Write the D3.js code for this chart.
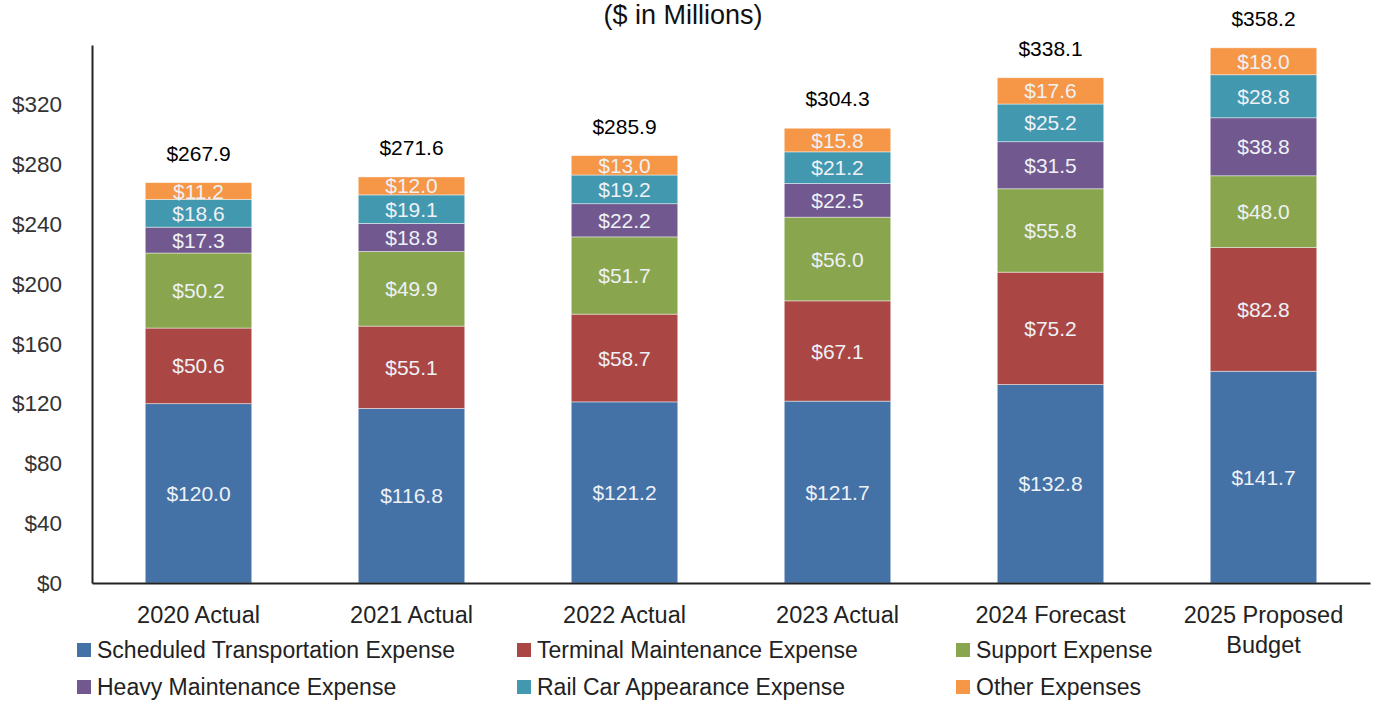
<!DOCTYPE html>
<html>
<head>
<meta charset="utf-8">
<script src="https://cdn.jsdelivr.net/npm/d3@7"></script>
<style>
  html, body { margin: 0; padding: 0; background: #fff; }
  svg { display: block; font-family: "Liberation Sans", Arial, sans-serif; }
</style>
</head>
<body>
<svg id="chart" width="1378" height="704"></svg>
<script>
// Operating expense by category, $ in millions
const categories = ["2020 Actual", "2021 Actual", "2022 Actual", "2023 Actual", "2024 Forecast", "2025 Proposed Budget"];
const categoryLines = [["2020 Actual"], ["2021 Actual"], ["2022 Actual"], ["2023 Actual"], ["2024 Forecast"], ["2025 Proposed", "Budget"]];
const seriesNames = ["Scheduled Transportation Expense", "Terminal Maintenance Expense", "Support Expense",
                     "Heavy Maintenance Expense", "Rail Car Appearance Expense", "Other Expenses"];
const scheduledTransportation = [120.0, 116.8, 121.2, 121.7, 132.8, 141.7];
const terminalMaintenance     = [50.6, 55.1, 58.7, 67.1, 75.2, 82.8];
const supportExpense          = [50.2, 49.9, 51.7, 56.0, 55.8, 48.0];
const heavyMaintenance        = [17.3, 18.8, 22.2, 22.5, 31.5, 38.8];
const railCarAppearance       = [18.6, 19.1, 19.2, 21.2, 25.2, 28.8];
const otherExpenses           = [11.2, 12.0, 13.0, 15.8, 17.6, 18.0];
const totals                  = [267.9, 271.6, 285.9, 304.3, 338.1, 358.2];
const yTicks = [0, 40, 80, 120, 160, 200, 240, 280, 320];
const colors = ["#4472A7", "#AA4744", "#89A54E", "#71588F", "#4298AF", "#F69647"];

const seriesValues = [scheduledTransportation, terminalMaintenance, supportExpense,
                      heavyMaintenance, railCarAppearance, otherExpenses];

const rows = categories.map((c, i) => {
  const r = { category: c };
  seriesNames.forEach((s, k) => { r[s] = seriesValues[k][i]; });
  return r;
});
const stacked = d3.stack().keys(seriesNames)(rows);

const svg = d3.select("#chart");
const x = d3.scaleBand().domain(categories).range([92, 1370]).paddingInner(0.5).paddingOuter(0.25);
const y = d3.scaleLinear().domain([0, 360]).range([583, 45]);

// Title
svg.append("text").attr("x", 683).attr("y", 24).attr("text-anchor", "middle")
  .attr("font-size", 27).attr("fill", "#111").text("($ in Millions)");

// Bars
const layer = svg.append("g").selectAll("g").data(stacked).join("g")
  .attr("fill", (d, i) => colors[i]);
layer.selectAll("rect").data(d => d).join("rect")
  .attr("x", d => x(d.data.category))
  .attr("width", x.bandwidth())
  .attr("y", d => y(d[1]))
  .attr("height", d => y(d[0]) - y(d[1]))
  .attr("stroke", "rgba(255,255,255,0.55)")
  .attr("stroke-width", 0.8);

// Segment value labels
stacked.forEach((s, k) => {
  svg.append("g").selectAll("text").data(s).join("text")
    .attr("x", d => x(d.data.category) + x.bandwidth() / 2)
    .attr("y", d => (y(d[0]) + y(d[1])) / 2)
    .attr("dy", "0.36em")
    .attr("text-anchor", "middle")
    .attr("font-size", 21)
    .attr("fill", "#EEF1F6")
    .text(d => "$" + (d[1] - d[0]).toFixed(1));
});

// Totals above each bar
svg.append("g").selectAll("text").data(categories).join("text")
  .attr("x", c => x(c) + x.bandwidth() / 2)
  .attr("y", (c, i) => y(totals[i]) - 22)
  .attr("text-anchor", "middle")
  .attr("font-size", 21)
  .attr("fill", "#000")
  .text((c, i) => "$" + totals[i].toFixed(1));

// Y axis
const yAxis = svg.append("g").attr("transform", "translate(92,0)")
  .call(d3.axisLeft(y).tickValues(yTicks).tickSize(0).tickPadding(30).tickFormat(v => "$" + v));
yAxis.select(".domain").attr("stroke", "#222").attr("stroke-width", 2);
yAxis.selectAll("text").attr("font-size", 22.5).attr("fill", "#333").attr("font-family", null);

// X axis
const xAxis = svg.append("g").attr("transform", "translate(0,583)")
  .call(d3.axisBottom(x).tickSize(0).tickFormat(""));
xAxis.select(".domain").attr("stroke", "#222").attr("stroke-width", 2);
xAxis.selectAll(".tick").each(function (c, i) {
  const t = d3.select(this).append("text")
    .attr("text-anchor", "middle").attr("font-size", 23.5).attr("fill", "#222");
  categoryLines[i].forEach((line, j) => {
    t.append("tspan").attr("x", 0).attr("y", 40 + j * 30).text(line);
  });
});

// Legend
const legendPos = [[77, 650], [517, 650], [956, 650], [77, 687], [517, 687], [956, 687]];
const legend = svg.append("g").selectAll("g").data(seriesNames).join("g")
  .attr("transform", (d, i) => `translate(${legendPos[i][0]},${legendPos[i][1]})`);
legend.append("rect").attr("x", 0).attr("y", -7).attr("width", 14).attr("height", 14)
  .attr("fill", (d, i) => colors[i]);
legend.append("text").attr("x", 20).attr("dy", "0.36em").attr("font-size", 23)
  .attr("fill", "#222").text(d => d);
</script>
</body>
</html>
